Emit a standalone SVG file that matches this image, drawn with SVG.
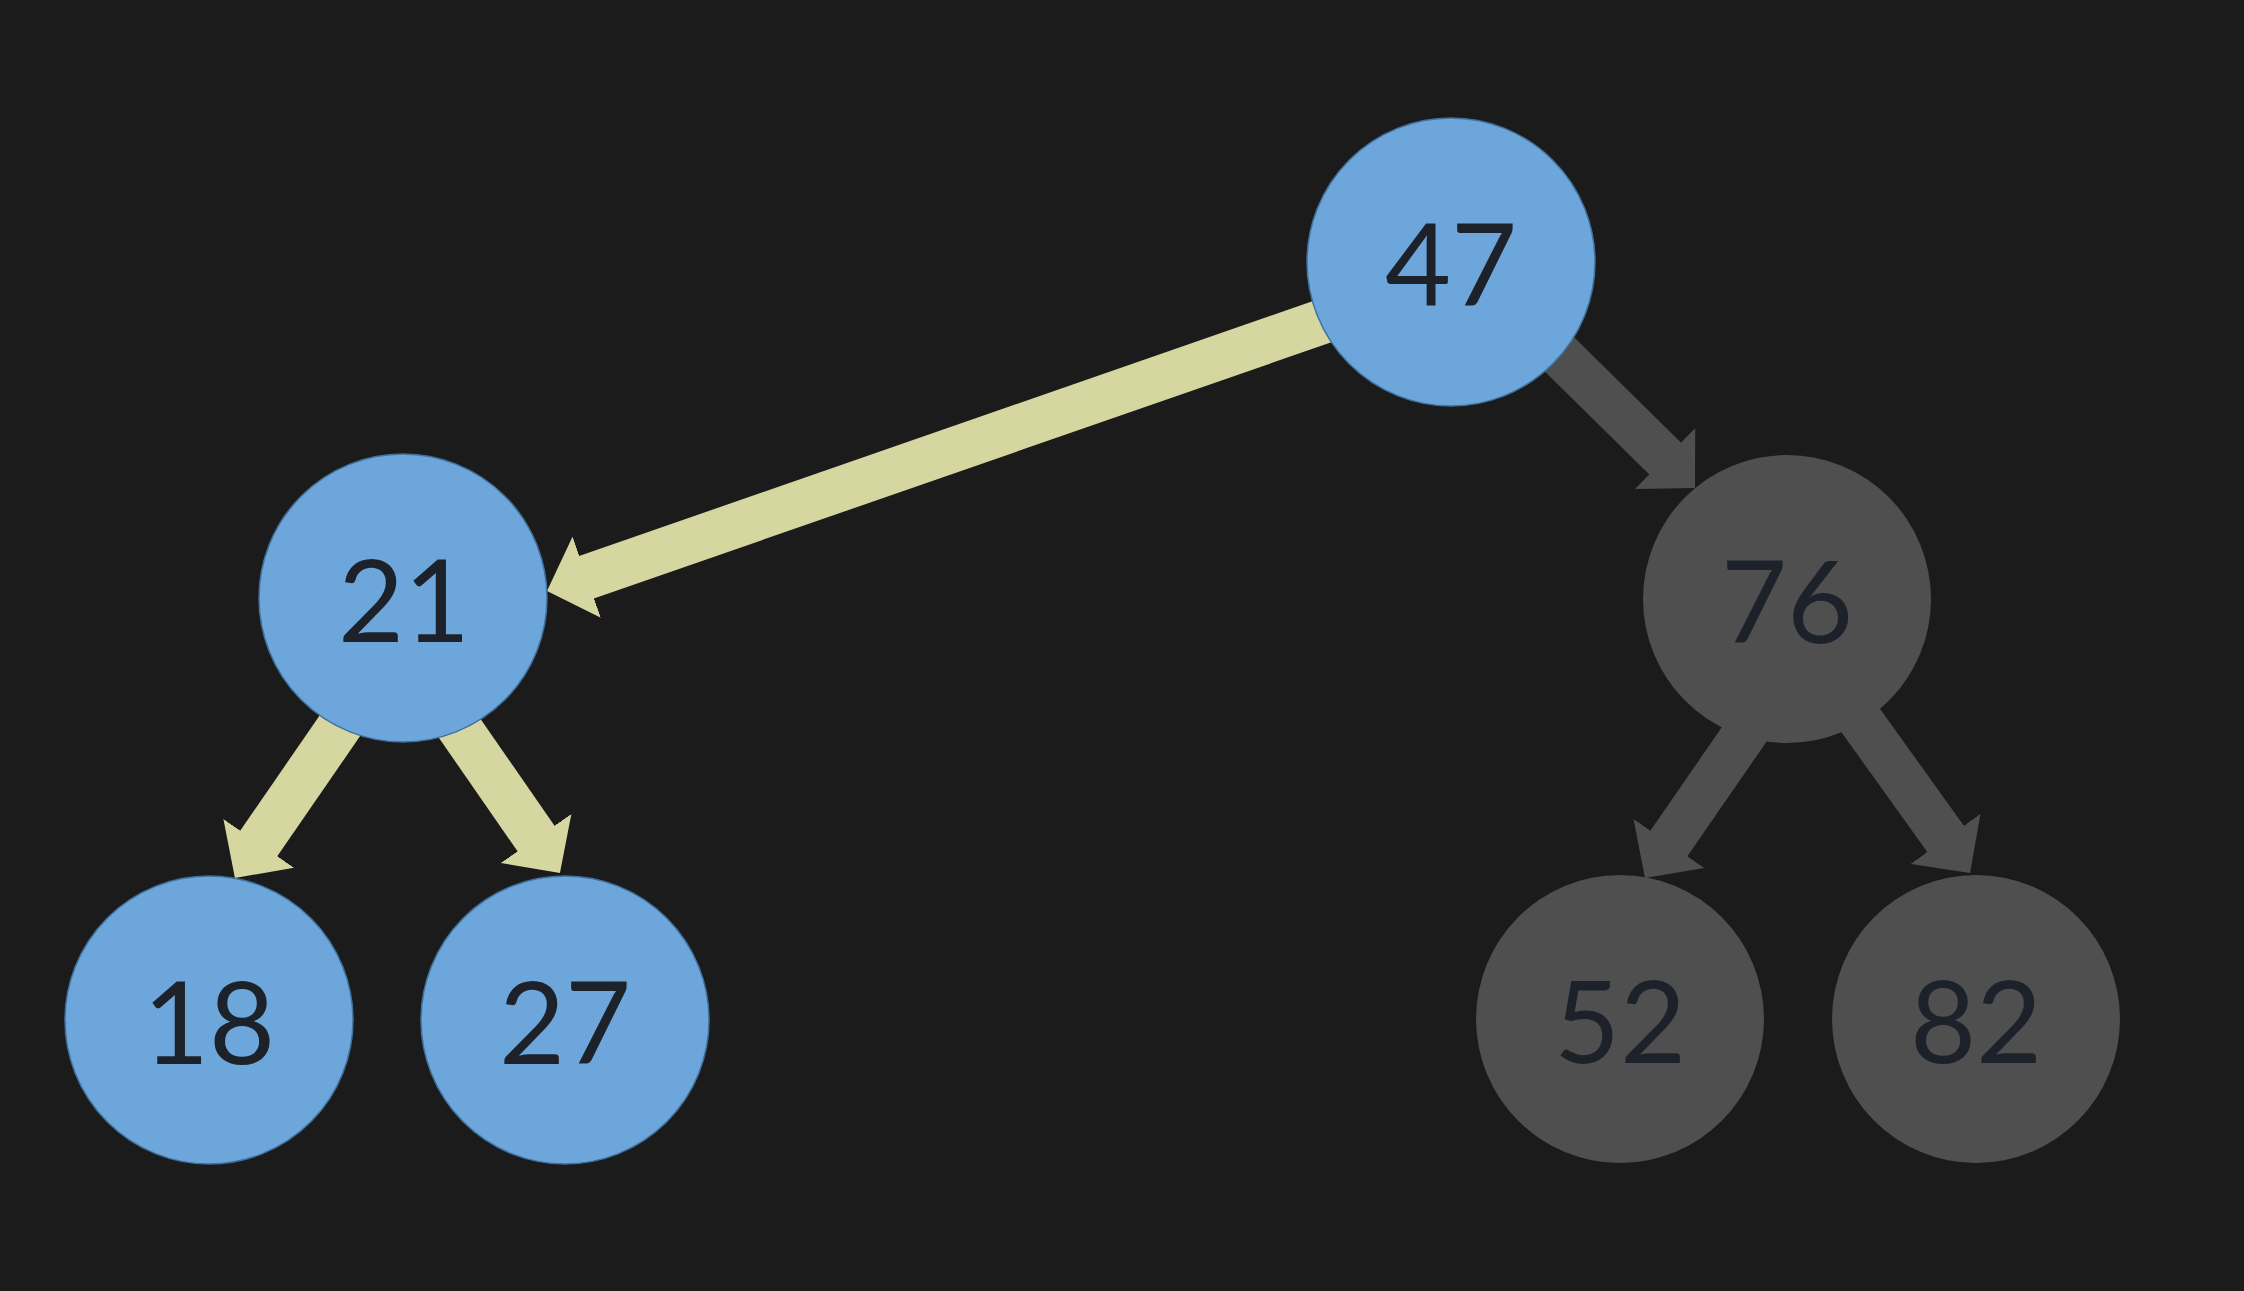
<svg xmlns="http://www.w3.org/2000/svg" width="2244" height="1291" viewBox="0 0 2244 1291">
  <style>
    .bg { fill: #1b1b1b; }
    .lit { fill: #6ca6da; stroke: #41729f; stroke-width: 1.5; }
    .dim { fill: #4f4f4f; }
    .lbl { font-family: Lato, "Liberation Sans", sans-serif; font-size: 114px; fill: #1d222a; text-anchor: middle; }
    .ey { stroke: #d6d6a1; stroke-width: 45; fill: none; }
    .eg { stroke: #4f4f4f; stroke-width: 45; fill: none; }
  </style>
  <defs>
    <marker id="hy" markerUnits="userSpaceOnUse" markerWidth="42" markerHeight="86" viewBox="0 0 42 86" refX="4" refY="43" orient="auto">
      <path d="M0,0 L42,43 L0,86 Z" fill="#d6d6a1"/>
    </marker>
    <marker id="hg" markerUnits="userSpaceOnUse" markerWidth="42" markerHeight="86" viewBox="0 0 42 86" refX="4" refY="43" orient="auto">
      <path d="M0,0 L42,43 L0,86 Z" fill="#4f4f4f"/>
    </marker>
  </defs>
  <rect class="bg" x="0" y="0" width="2244" height="1291"/>
  <g id="connectors">
    <line id="e47-21" class="ey" x1="1350" y1="312" x2="582.9" y2="578.5" marker-end="url(#hy)"/>
    <line id="e47-76" class="eg" x1="1519" y1="314.6" x2="1667.9" y2="461.3" marker-end="url(#hg)"/>
    <line id="e21-18" class="ey" x1="399" y1="640" x2="256.5" y2="846.7" marker-end="url(#hy)"/>
    <line id="e21-27" class="ey" x1="398.5" y1="640" x2="538.3" y2="841.8" marker-end="url(#hy)"/>
    <line id="e76-52" class="eg" x1="1809.5" y1="640" x2="1666.6" y2="846.7" marker-end="url(#hg)"/>
    <line id="e76-82" class="eg" x1="1803" y1="640" x2="1947.9" y2="842.1" marker-end="url(#hg)"/>
  </g>
  <g id="n47">
    <circle class="lit" cx="1451" cy="262" r="144"/>
    <text class="lbl" x="1451" y="306">47</text>
  </g>
  <g id="n21">
    <circle class="lit" cx="403" cy="598" r="144"/>
    <text class="lbl" x="404" y="642">21</text>
  </g>
  <g id="n76">
    <circle class="dim" cx="1787" cy="599" r="144"/>
    <text class="lbl" x="1787" y="643">76</text>
  </g>
  <g id="n18">
    <circle class="lit" cx="209" cy="1020" r="144"/>
    <text class="lbl" x="209" y="1064">18</text>
  </g>
  <g id="n27">
    <circle class="lit" cx="565" cy="1020" r="144"/>
    <text class="lbl" x="565" y="1064">27</text>
  </g>
  <g id="n52">
    <circle class="dim" cx="1620" cy="1019" r="144"/>
    <text class="lbl" x="1620" y="1063">52</text>
  </g>
  <g id="n82">
    <circle class="dim" cx="1976" cy="1019" r="144"/>
    <text class="lbl" x="1976" y="1063">82</text>
  </g>
</svg>
